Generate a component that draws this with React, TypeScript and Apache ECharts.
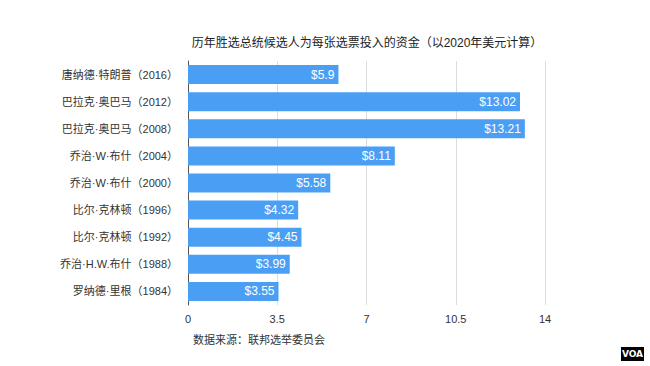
import React, { useEffect, useRef } from "react";
import * as echarts from "echarts";

const categories = [
  "罗纳德·里根（1984）",
  "乔治·H.W.布什（1988）",
  "比尔·克林顿（1992）",
  "比尔·克林顿（1996）",
  "乔治·W·布什（2000）",
  "乔治·W·布什（2004）",
  "巴拉克·奥巴马（2008）",
  "巴拉克·奥巴马（2012）",
  "唐纳德·特朗普（2016）",
];
const values = [3.55, 3.99, 4.45, 4.32, 5.58, 8.11, 13.21, 13.02, 5.9];
const title = "历年胜选总统候选人为每张选票投入的资金（以2020年美元计算）";
const source = "数据来源：联邦选举委员会";

const FONT = "'Liberation Sans', 'Noto Sans CJK SC', sans-serif";

export default function App() {
  const ref = useRef<HTMLDivElement>(null);
  useEffect(() => {
    const chart = echarts.init(ref.current!, null, { renderer: "svg" });
    chart.setOption({
      animation: false,
      backgroundColor: "#ffffff",
      title: {
        text: title,
        left: 362,
        textAlign: "center",
        top: 32,
        textStyle: { fontSize: 12, fontWeight: "normal", color: "#222", fontFamily: FONT },
      },
      grid: { left: 188, right: 105, top: 61, bottom: 61 },
      xAxis: {
        type: "value",
        min: 0,
        max: 14,
        interval: 3.5,
        axisLine: { show: false },
        axisTick: { show: false },
        splitLine: { show: true, lineStyle: { color: "#dddddd", width: 1 } },
        axisLabel: { color: "#333", fontSize: 11, fontFamily: FONT, margin: 8 },
      },
      yAxis: {
        type: "category",
        data: categories,
        axisLine: { show: true, lineStyle: { color: "#555", width: 1 } },
        axisTick: { show: false },
        axisLabel: { color: "#333", fontSize: 11, fontFamily: FONT, margin: 10 },
      },
      series: [
        {
          type: "bar",
          data: values,
          barWidth: 19,
          itemStyle: { color: "#4a9ff5" },
          label: {
            show: true,
            position: "insideRight",
            color: "#ffffff",
            fontSize: 12,
            fontFamily: FONT,
            distance: 4,
            formatter: (p: any) => "$" + p.value,
          },
        },
      ],
      graphic: [
        {
          type: "text",
          left: 193,
          top: 334,
          style: { text: source, fontSize: 11, fill: "#333", fontFamily: FONT },
        },
        {
          type: "rect",
          shape: { x: 621, y: 347, width: 23, height: 14 },
          style: { fill: "#000" },
        },
        {
          type: "text",
          x: 632.5,
          y: 354,
          style: {
            text: "VOA",
            fontSize: 9,
            fontWeight: "bold",
            fill: "#fff",
            fontFamily: "'DejaVu Sans', sans-serif",
            align: "center",
            verticalAlign: "middle",
          },
        },
      ],
    });
    return () => chart.dispose();
  }, []);
  return <div ref={ref} style={{ width: 650, height: 366, position: "absolute", left: 0, top: 0 }} />;
}
